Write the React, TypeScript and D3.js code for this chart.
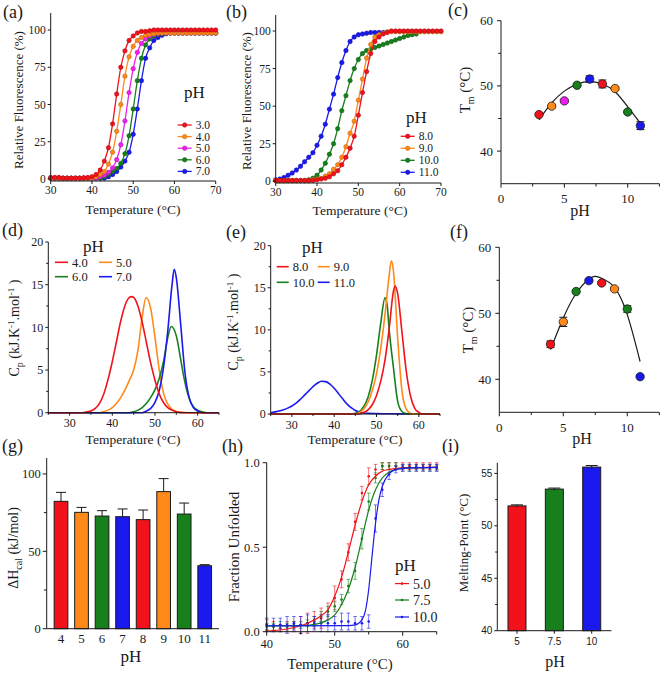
import React from "react";
import * as d3 from "d3";

const SERIF = "'Liberation Serif', 'Times New Roman', serif";
const SANS = "'Liberation Sans', Arial, sans-serif";
const INK = "#1a1a1a";

const RED = "#f2121b";
const ORANGE = "#ff8a1a";
const MAGENTA = "#f01ef0";
const GREEN = "#17801c";
const BLUE = "#1a1aee";

// ---------------- (a) / (b) thermal shift data ----------------
const TEMP_AB = [30,31,32,33,34,35,36,37,38,39,40,41,42,43,44,45,46,47,48,49,50,51,52,53,54,55,56,57,58,59,60,61,62,63,64,65,66,67,68,69,70];
const A_PH3 = [1,1,1,0.5,0.5,0.5,0.5,0.5,0.8,1,1.5,3,6,12,21,37,57,75,86,93,96,98,99,99,99.5,100,100,100,100,100,100,100,100,100,100,100,100,100,100,100,100];
const A_PH4 = [0.5,0.5,0.5,0.5,0.5,0.5,0.5,0.5,0.5,0.5,0.5,1.5,3,5,10,18,32,50,69,82,89,93,95,96.5,97,97.5,98,98,98,98,98,98,98,98,98,98,98,98,98,98,98];
const A_PH5 = [0.5,0.5,0.5,0.5,0.5,0.5,0.5,0.5,0.5,0.5,0.5,0.5,1.5,2.5,4.5,7.5,13,23,39,58,74,85,91,94,96,97,97.5,98,98,98,98,98,98,98,98,98,98,98,98,98,98];
const A_PH6 = [0.5,0.5,0.5,0.5,0.5,0.5,0.5,0.5,0.5,0.5,0.5,0.5,0.5,1.5,3,5,7,10.5,17,29,47,66,81,90,94,96,97,97.5,98,98,98,98,98,98,98,98,98,98,98,98,98];
const A_PH7 = [0.5,0.5,0.5,0.5,0.5,0.5,0.5,0.5,0.5,0.5,0.5,0.5,0.5,0.5,1.5,3,5,8,12,18,30,47,66,81,88,93,95,96.5,97.5,98,98,98,98,98,98,98,98,98,98,98,98];

const B_PH8 = [0.5,0.5,0.5,0.5,0.5,0.5,0.5,0.5,0.5,0.5,1,1.5,2,3,5,7,11,16,22,30,44,59,73,85,93,96,98,99,100,100,100,100,100,100,100,100,100,100,100,100,100];
const B_PH9 = [0.5,0.5,0.5,0.5,0.5,0.5,0.5,0.5,0.5,1,1.5,2,3.5,5,8,11,16,23,32,40,54,68,82,91,96,97.5,98.5,99.5,99.5,99.5,99.5,99.5,99.5,99.5,99.5,99.5,99.5,99.5,99.5,99.5,99.5];
const B_PH10 = [0.5,0.5,0.5,0.5,0.5,0.5,0.5,0.5,1,2,4,7.5,12,18,25,35,47,57,67,75,81,85,87,88,89,90,91,92,93,94,95,96,97,97.5,98];
const B_PH11 = [1,1.5,2.5,4,5.5,7.5,10,13,16,19,24,30,38,48,58,69,79,87,93,96,97.5,98,98.5,99,99,99,99];

// ---------------- (c) / (f) Tm vs pH ----------------
const PH_C = [3,4,5,6,7,8,9,10,11];
const TM_C = [45.6,46.9,47.7,50.1,51.05,50.3,49.6,46.0,43.9];
const ERR_C = [0.2,0.2,0.2,0.2,0.5,0.6,0.2,0.2,0.6];
const COL_C = [RED, ORANGE, MAGENTA, GREEN, BLUE, RED, ORANGE, GREEN, BLUE];
const FIT_C_PH = [3,4,5,6,7,8,9,10,11];
const FIT_C_TM = [44.8,47.4,49.2,50.3,50.7,50.3,49.1,46.8,44.3];

const PH_F = [4,5,6,7,8,9,10,11];
const TM_F = [45.3,48.7,53.3,54.95,54.6,53.7,50.65,40.4];
const ERR_F = [0.5,0.7,0.2,0.2,0.2,0.2,0.5,0.2];
const COL_F = [RED, ORANGE, GREEN, BLUE, RED, ORANGE, GREEN, BLUE];
const FIT_F_PH = [4,5,6,7,7.5,8,9,10,11];
const FIT_F_TM = [44.5,49.3,53.0,55.2,55.6,55.3,53.9,49.8,42.7];

// ---------------- (d) / (e) DSC Cp curves [T, Cp] ----------------
const D_PH4: [number, number][] = [[25,0],[33,0],[34,0.1],[35,0.2],[36,0.5],[37,1.1],[38,2.2],[39,3.9],[40,6.0],[41,8.4],[42,10.8],[43,12.6],[44,13.5],[44.5,13.6],[45,13.5],[46,12.5],[47,10.6],[48,8.2],[49,5.8],[50,3.8],[51,2.2],[52,1.2],[53,0.6],[54,0.3],[55,0.1],[57,0],[65,0]];
const D_PH5: [number, number][] = [[25,0],[37,0],[38,0.1],[39,0.3],[40,0.6],[41,1.1],[42,1.8],[43,2.7],[44,3.8],[45,5.0],[46,7.3],[47,11.2],[47.9,13.5],[49,12.2],[50,8.8],[51,5.0],[52,2.3],[53,1.0],[54,0.4],[55,0.15],[56,0.05],[58,0],[65,0]];
const D_PH6: [number, number][] = [[25,0],[44,0],[45,0.1],[46,0.3],[47,0.6],[48,1.1],[49,1.8],[50,2.7],[51,4.0],[52,6.0],[53,8.8],[53.8,10.1],[55,9.0],[56,6.3],[57,3.6],[58,1.7],[59,0.7],[60,0.3],[61,0.1],[62,0],[65,0]];
const D_PH7: [number, number][] = [[25,0],[47,0],[48,0.2],[49,0.5],[50,1.2],[51,2.6],[52,5.3],[53,9.6],[54,15.0],[54.5,16.8],[55,15.8],[56,10.5],[57,4.8],[58,1.8],[59,0.6],[60,0.2],[61,0],[65,0]];

const E_PH8: [number, number][] = [[25,0],[46,0],[47,0.2],[48,0.5],[49,1.1],[50,2.2],[51,3.9],[52,6.4],[53,10.2],[54,14.6],[54.4,15.2],[55,14.3],[56,9.8],[57,5.2],[58,2.2],[59,0.7],[60,0.2],[61,0],[65,0]];
const E_PH9: [number, number][] = [[25,0],[45,0],[46,0.2],[47,0.6],[48,1.4],[49,2.8],[50,4.8],[51,7.8],[52,11.8],[53,16.5],[53.5,18.2],[54,17.0],[55,9.0],[56,2.8],[57,0.6],[58,0.1],[59,0],[65,0]];
const E_PH10: [number, number][] = [[25,0],[44,0],[45,0.1],[46,0.3],[47,0.9],[48,2.0],[49,4.0],[50,7.0],[51,10.8],[52,13.8],[52.5,13.0],[53,10.0],[54,5.5],[55,1.5],[56,0.3],[57,0.05],[58,0],[65,0]];
const E_PH11: [number, number][] = [[25,0.15],[26,0.25],[27,0.35],[28,0.5],[29,0.7],[30,0.95],[31,1.3],[32,1.75],[33,2.25],[34,2.75],[35,3.25],[36,3.65],[37,3.9],[38,3.85],[39,3.55],[40,3.05],[41,2.45],[42,1.8],[43,1.2],[44,0.75],[45,0.42],[46,0.22],[47,0.12],[48,0.08],[50,0.05],[55,0.02],[65,0]];

// ---------------- (g) enthalpy bars ----------------
const PH_G = ["4","5","6","7","8","9","10","11"];
const DH_G = [82.3,75.2,72.8,72.4,70.5,88.6,74.1,40.7];
const ERR_G = [5.8,3.2,3.5,5.0,6.2,8.4,7.1,0.7];
const COL_G = [RED, ORANGE, GREEN, BLUE, RED, ORANGE, GREEN, BLUE];

// ---------------- (h) fraction unfolded ----------------
const TEMP_H = [40,41,42,43,44,45,46,47,48,49,50,51,52,53,54,55,56,57,58,59,60,61,62,63,64,65];
const H_PH5 = [0.04,0.03,0.02,0.03,0.03,0.04,0.05,0.07,0.08,0.12,0.20,0.31,0.47,0.65,0.82,0.92,0.96,0.98,0.98,0.98,0.98,0.98,0.98,0.98,0.98,0.98];
const H_ERR5 = [0.03,0.03,0.02,0.03,0.03,0.05,0.06,0.05,0.06,0.05,0.07,0.05,0.05,0.05,0.04,0.05,0.03,0.02,0.02,0.02,0.02,0.02,0.02,0.02,0.02,0.02];
const H_PH75 = [0.03,0.03,0.04,0.03,0.04,0.04,0.05,0.06,0.09,0.12,0.15,0.19,0.27,0.36,0.55,0.77,0.91,0.98,0.98,0.98,0.97,0.97,0.97,0.97,0.97,0.97];
const H_ERR75 = [0.02,0.02,0.02,0.02,0.02,0.02,0.02,0.03,0.03,0.03,0.03,0.03,0.04,0.05,0.06,0.05,0.03,0.02,0.02,0.02,0.02,0.02,0.02,0.02,0.02,0.02];
const H_PH10 = [0.04,0.04,0.04,0.04,0.05,0.04,0.05,0.05,0.05,0.05,0.05,0.06,0.06,0.05,0.05,0.06,0.67,0.84,0.93,0.96,0.97,0.97,0.97,0.97,0.97,0.97];
const H_ERR10 = [0.04,0.04,0.04,0.05,0.04,0.05,0.05,0.04,0.05,0.05,0.04,0.05,0.05,0.04,0.04,0.04,0.08,0.04,0.03,0.02,0.02,0.02,0.02,0.02,0.02,0.02];
const FIT_H5: [number, number][] = [[40,0.004],[42,0.01],[44,0.025],[45,0.035],[46,0.05],[47,0.07],[48,0.095],[49,0.13],[50,0.21],[51,0.32],[52,0.47],[53,0.63],[54,0.77],[55,0.87],[56,0.92],[57,0.95],[58,0.96],[60,0.97],[65,0.972]];
const FIT_H75: [number, number][] = [[40,0.035],[45,0.036],[46,0.038],[47,0.043],[48,0.052],[49,0.07],[50,0.1],[51,0.16],[52,0.25],[53,0.38],[54,0.55],[55,0.72],[56,0.84],[57,0.91],[58,0.945],[59,0.96],[60,0.967],[65,0.972]];
const FIT_H10: [number, number][] = [[40,0.035],[52,0.036],[53,0.04],[54,0.07],[54.5,0.12],[55,0.25],[55.5,0.45],[56,0.64],[56.5,0.78],[57,0.86],[58,0.935],[59,0.96],[60,0.967],[65,0.972]];

// ---------------- (i) melting point bars ----------------
const PH_I = ["5","7.5","10"];
const MP_I = [51.9,53.5,55.6];
const ERR_I = [0.1,0.1,0.15];
const COL_I = [RED, GREEN, BLUE];

// ---------------- axis helpers ----------------
type AxProps = {
  pos: number; from: number; to: number;
  scale: (v: any) => number;
  ticks: any[]; minor?: number[];
  fmt?: (v: any) => string;
  fs?: number; font?: string; gap?: number; tl?: number; marks?: boolean;
};

function YAxis({ pos, from, to, scale, ticks, minor = [], fmt = String, fs = 12, font = SERIF, gap = 6, tl = 4 }: AxProps) {
  return (
    <g>
      <line x1={pos} x2={pos} y1={from} y2={to} stroke={INK} strokeWidth={1} />
      {ticks.map((t, i) => (
        <g key={"t" + i}>
          <line x1={pos - tl} x2={pos} y1={scale(t)} y2={scale(t)} stroke={INK} strokeWidth={1} />
          <text x={pos - gap} y={scale(t)} dy="0.35em" textAnchor="end" fontSize={fs} fontFamily={font} fill={INK}>{fmt(t)}</text>
        </g>
      ))}
      {minor.map((t, i) => (
        <line key={"m" + i} x1={pos - tl * 0.7} x2={pos} y1={scale(t)} y2={scale(t)} stroke={INK} strokeWidth={1} />
      ))}
    </g>
  );
}

function XAxis({ pos, from, to, scale, ticks, minor = [], fmt = String, fs = 12, font = SERIF, gap = 10, tl = 4, marks = true }: AxProps) {
  return (
    <g>
      <line x1={from} x2={to} y1={pos} y2={pos} stroke={INK} strokeWidth={1} />
      {ticks.map((t, i) => (
        <g key={"t" + i}>
          {marks && <line x1={scale(t)} x2={scale(t)} y1={pos} y2={pos + tl} stroke={INK} strokeWidth={1} />}
          <text x={scale(t)} y={pos + gap} dy="0.35em" textAnchor="middle" fontSize={fs} fontFamily={font} fill={INK}>{fmt(t)}</text>
        </g>
      ))}
      {minor.map((t, i) => (
        <line key={"m" + i} x1={scale(t)} x2={scale(t)} y1={pos} y2={pos + tl * 0.7} stroke={INK} strokeWidth={1} />
      ))}
    </g>
  );
}

function Letter({ x, y, t }: { x: number; y: number; t: string }) {
  return <text x={x} y={y} fontSize={18} fontFamily={SERIF} fill={INK}>{t}</text>;
}

function YTitle({ x, y, fs = 14, children }: { x: number; y: number; fs?: number; children: any }) {
  return (
    <text transform={`translate(${x},${y}) rotate(-90)`} textAnchor="middle" dy="0.35em" fontSize={fs} fontFamily={SERIF} fill={INK}>
      {children}
    </text>
  );
}

function XTitle({ x, y, fs = 14, children }: { x: number; y: number; fs?: number; children: any }) {
  return (
    <text x={x} y={y} textAnchor="middle" fontSize={fs} fontFamily={SERIF} fill={INK}>{children}</text>
  );
}

const fmtF = (d: number) => d.toFixed(1);

// ---------------- Panels ----------------
type Ser = { label: string; color: string; v: number[]; t: number[] };

function SigmoidPanel({ xr, yr, axisY, topY, series, order, legend }: {
  xr: [number, number]; yr: [number, number]; axisY: number; topY: number;
  series: Ser[]; order: number[]; legend: { x: number; y0: number; dy: number; title: [number, number] };
}) {
  const x = d3.scaleLinear().domain([30, 70]).range(xr);
  const y = d3.scaleLinear().domain([0, 100]).range(yr);
  const line = d3.line<[number, number]>().x(d => x(d[0])).y(d => y(d[1])).curve(d3.curveMonotoneX);
  return (
    <g>
      {order.map(k => {
        const s = series[k];
        const pts = s.v.map((v, i) => [s.t[i], v] as [number, number]);
        const dark = d3.color(s.color)!.darker(0.8).formatHex();
        return (
          <g key={s.label}>
            <path d={line(pts) || ""} fill="none" stroke={s.color} strokeWidth={1.3} />
            {pts.map((p, i) => (
              <circle key={i} cx={x(p[0])} cy={y(p[1])} r={2.2} fill={s.color} stroke={dark} strokeWidth={0.6} />
            ))}
          </g>
        );
      })}
      <YAxis pos={xr[0]} from={topY} to={axisY} scale={y} ticks={[0, 25, 50, 75, 100]} fs={11.5} gap={5} tl={3} />
      <XAxis pos={axisY} from={xr[0]} to={xr[1]} scale={x} ticks={[30, 40, 50, 60, 70]} fs={11.5} gap={9} tl={3} />
      <text x={legend.title[0]} y={legend.title[1]} fontSize={17} fontFamily={SERIF} fill={INK}>pH</text>
      {series.map((s, i) => {
        const yy = legend.y0 + i * legend.dy;
        const dark = d3.color(s.color)!.darker(0.8).formatHex();
        return (
          <g key={"lg" + i}>
            <line x1={legend.x} x2={legend.x + 14} y1={yy} y2={yy} stroke={s.color} strokeWidth={1.3} />
            <circle cx={legend.x + 7} cy={yy} r={2.2} fill={s.color} stroke={dark} strokeWidth={0.6} />
            <text x={legend.x + 18} y={yy} dy="0.35em" fontSize={11.5} fontFamily={SERIF} fill={INK}>{s.label}</text>
          </g>
        );
      })}
    </g>
  );
}

function TmPanel({ xr, yr, ph, tm, err, col, fitPh, fitTm, axisY }: {
  xr: [number, number]; yr: [number, number]; ph: number[]; tm: number[]; err: number[]; col: string[];
  fitPh: number[]; fitTm: number[]; axisY: number;
}) {
  const x = d3.scaleLinear().domain([0, 12.5]).range(xr);
  const y = d3.scaleLinear().domain([35, 60]).range(yr);
  const line = d3.line<number>().x((_, i) => x(fitPh[i])).y(d => y(d)).curve(d3.curveNatural);
  return (
    <g>
      <YAxis pos={xr[0]} from={yr[1]} to={yr[0]} scale={y} ticks={[40, 50, 60]} minor={[45, 55]} fs={13} gap={8} tl={4} />
      <XAxis pos={axisY} from={xr[0]} to={xr[1]} scale={x} ticks={[0, 5, 10]} minor={[2.5, 7.5, 12.5]} fs={13} gap={15} tl={4} />
      <path d={line(fitTm) || ""} fill="none" stroke={INK} strokeWidth={1.2} />
      {ph.map((p, i) => (
        <g key={i}>
          <line x1={x(p)} x2={x(p)} y1={y(tm[i] - err[i])} y2={y(tm[i] + err[i])} stroke={INK} strokeWidth={1} />
          <line x1={x(p) - 4} x2={x(p) + 4} y1={y(tm[i] - err[i])} y2={y(tm[i] - err[i])} stroke={INK} strokeWidth={1} />
          <line x1={x(p) - 4} x2={x(p) + 4} y1={y(tm[i] + err[i])} y2={y(tm[i] + err[i])} stroke={INK} strokeWidth={1} />
          <circle cx={x(p)} cy={y(tm[i])} r={4.2} fill={col[i]} stroke={INK} strokeWidth={0.8} />
        </g>
      ))}
    </g>
  );
}

function CpTitle({ x, y }: { x: number; y: number }) {
  return (
    <YTitle x={x} y={y} fs={14}>
      C<tspan fontSize={10} dy={4}>p</tspan>
      <tspan dy={-4}> (kJ.K</tspan>
      <tspan fontSize={9} dy={-5}>-1</tspan>
      <tspan dy={5}>.mol</tspan>
      <tspan fontSize={9} dy={-5}>-1</tspan>
      <tspan dy={5}> )</tspan>
    </YTitle>
  );
}

function CpPanel({ xr, yr, series, order, legend }: {
  xr: [number, number]; yr: [number, number];
  series: { label: string; color: string; d: [number, number][] }[]; order: number[];
  legend: { title: [number, number]; rows: number[]; cols: number[]; len: number };
}) {
  const x = d3.scaleLinear().domain([25, 65]).range(xr);
  const y = d3.scaleLinear().domain([0, 20]).range(yr);
  const line = d3.line<[number, number]>().x(d => x(d[0])).y(d => y(d[1])).curve(d3.curveMonotoneX);
  return (
    <g>
      {order.map(k => (
        <path key={k} d={line(series[k].d) || ""} fill="none" stroke={series[k].color} strokeWidth={1.6} />
      ))}
      <YAxis pos={xr[0]} from={yr[1]} to={yr[0]} scale={y} ticks={[0, 5, 10, 15, 20]} minor={[2.5, 7.5, 12.5, 17.5]} fs={12} gap={5} tl={3} />
      <XAxis pos={yr[0]} from={xr[0]} to={xr[1]} scale={x} ticks={[30, 40, 50, 60]} minor={[25, 35, 45, 55, 65]} fs={12} gap={10.5} tl={3} />
      <text x={legend.title[0]} y={legend.title[1]} fontSize={17} fontFamily={SERIF} fill={INK}>pH</text>
      {series.map((s, i) => {
        const yy = legend.rows[Math.floor(i / 2)];
        const xx = legend.cols[i % 2];
        return (
          <g key={"lg" + i}>
            <line x1={xx} x2={xx + legend.len} y1={yy} y2={yy} stroke={s.color} strokeWidth={1.6} />
            <text x={xx + legend.len + 4} y={yy} dy="0.35em" fontSize={12.5} fontFamily={SERIF} fill={INK}>{s.label}</text>
          </g>
        );
      })}
    </g>
  );
}

export default function App() {
  const seriesA: Ser[] = [
    { label: "3.0", color: RED, v: A_PH3, t: TEMP_AB },
    { label: "4.0", color: ORANGE, v: A_PH4, t: TEMP_AB },
    { label: "5.0", color: MAGENTA, v: A_PH5, t: TEMP_AB },
    { label: "6.0", color: GREEN, v: A_PH6, t: TEMP_AB },
    { label: "7.0", color: BLUE, v: A_PH7, t: TEMP_AB },
  ];
  const seriesB: Ser[] = [
    { label: "8.0", color: RED, v: B_PH8, t: TEMP_AB },
    { label: "9.0", color: ORANGE, v: B_PH9, t: TEMP_AB },
    { label: "10.0", color: GREEN, v: B_PH10, t: TEMP_AB.slice(0, B_PH10.length) },
    { label: "11.0", color: BLUE, v: B_PH11, t: TEMP_AB.slice(0, B_PH11.length) },
  ];
  const seriesD = [
    { label: "4.0", color: RED, d: D_PH4 },
    { label: "5.0", color: ORANGE, d: D_PH5 },
    { label: "6.0", color: GREEN, d: D_PH6 },
    { label: "7.0", color: BLUE, d: D_PH7 },
  ];
  const seriesE = [
    { label: "8.0", color: RED, d: E_PH8 },
    { label: "9.0", color: ORANGE, d: E_PH9 },
    { label: "10.0", color: GREEN, d: E_PH10 },
    { label: "11.0", color: BLUE, d: E_PH11 },
  ];

  const xG = d3.scaleBand<string>().domain(PH_G).range([46.7, 219]).paddingInner(0.333).paddingOuter(0.363);
  const yG = d3.scaleLinear().domain([0, 110]).range([628.7, 458.5]);
  const cG = (c: string) => (xG(c) || 0) + xG.bandwidth() / 2;

  const xH = d3.scaleLinear().domain([40, 65]).range([266.7, 436.7]);
  const yH = d3.scaleLinear().domain([0, 1]).range([631.7, 462.7]);
  const lineH = d3.line<[number, number]>().x(d => xH(d[0])).y(d => yH(d[1])).curve(d3.curveMonotoneX);
  const seriesH = [
    { label: "5.0", color: RED, v: H_PH5, e: H_ERR5, fit: FIT_H5 },
    { label: "7.5", color: GREEN, v: H_PH75, e: H_ERR75, fit: FIT_H75 },
    { label: "10.0", color: BLUE, v: H_PH10, e: H_ERR10, fit: FIT_H10 },
  ];

  const xI = d3.scaleBand<string>().domain(PH_I).range([497.3, 611.4]).paddingInner(0.518).paddingOuter(0.286);
  const yI = d3.scaleLinear().domain([40, 56]).range([630.7, 462.9]);
  const cI = (c: string) => (xI(c) || 0) + xI.bandwidth() / 2;

  return (
    <svg width={667} height={675} style={{ position: "absolute", left: 0, top: 0, background: "#fff" }}>
      <rect x={0} y={0} width={667} height={675} fill="#fff" />

      {/* (a) */}
      <Letter x={3} y={18} t="(a)" />
      <SigmoidPanel xr={[50.7, 215.7]} yr={[179, 30]} axisY={181} topY={13} series={seriesA} order={[4, 3, 2, 1, 0]}
        legend={{ x: 177.7, y0: 125, dy: 11.6, title: [184, 98] }} />
      <YTitle x={18} y={100} fs={13}>Relative Fluorescence (%)</YTitle>
      <XTitle x={133} y={214} fs={13.5}>Temperature (°C)</XTitle>

      {/* (b) */}
      <Letter x={226} y={18} t="(b)" />
      <SigmoidPanel xr={[275.7, 441]} yr={[181.3, 31]} axisY={183} topY={15} series={seriesB} order={[2, 3, 1, 0]}
        legend={{ x: 400.7, y0: 136.3, dy: 12, title: [406, 123] }} />
      <YTitle x={246} y={101} fs={13}>Relative Fluorescence (%)</YTitle>
      <XTitle x={360} y={215} fs={13.5}>Temperature (°C)</XTitle>

      {/* (c) */}
      <Letter x={448} y={16} t="(c)" />
      <TmPanel xr={[501, 659.4]} yr={[183.7, 20.7]} axisY={183.7} ph={PH_C} tm={TM_C} err={ERR_C} col={COL_C} fitPh={FIT_C_PH} fitTm={FIT_C_TM} />
      <YTitle x={465} y={90} fs={15}>T<tspan fontSize={10} dy={4}>m</tspan><tspan dy={-4}> (°C)</tspan></YTitle>
      <XTitle x={580} y={216} fs={16}>pH</XTitle>

      {/* (d) */}
      <Letter x={2} y={236} t="(d)" />
      <CpPanel xr={[48.3, 219]} yr={[412.7, 242]} series={seriesD} order={[1, 2, 3, 0]}
        legend={{ title: [83, 252], rows: [262.3, 276.7], cols: [55, 99], len: 13 }} />
      <CpTitle x={14} y={328} />
      <XTitle x={133} y={444} fs={13.5}>Temperature (°C)</XTitle>

      {/* (e) */}
      <Letter x={226} y={238} t="(e)" />
      <CpPanel xr={[270.7, 440]} yr={[414, 245.7]} series={seriesE} order={[3, 2, 1, 0]}
        legend={{ title: [302, 253], rows: [266.7, 282.3], cols: [276.7, 317.7], len: 12 }} />
      <CpTitle x={233} y={322} />
      <XTitle x={355} y={444} fs={13.5}>Temperature (°C)</XTitle>

      {/* (f) */}
      <Letter x={450} y={238} t="(f)" />
      <TmPanel xr={[499.3, 659.3]} yr={[412.3, 247.3]} axisY={412.3} ph={PH_F} tm={TM_F} err={ERR_F} col={COL_F} fitPh={FIT_F_PH} fitTm={FIT_F_TM} />
      <YTitle x={468} y={330} fs={15}>T<tspan fontSize={10} dy={4}>m</tspan><tspan dy={-4}> (°C)</tspan></YTitle>
      <XTitle x={582} y={444} fs={16}>pH</XTitle>

      {/* (g) */}
      <Letter x={2} y={452} t="(g)" />
      {PH_G.map((c, i) => (
        <g key={"g" + c}>
          <line x1={cG(c)} x2={cG(c)} y1={yG(DH_G[i])} y2={yG(DH_G[i] + ERR_G[i])} stroke={INK} strokeWidth={1} />
          <line x1={cG(c) - 5} x2={cG(c) + 5} y1={yG(DH_G[i] + ERR_G[i])} y2={yG(DH_G[i] + ERR_G[i])} stroke={INK} strokeWidth={1} />
          <rect x={xG(c)} y={yG(DH_G[i])} width={xG.bandwidth()} height={yG(0) - yG(DH_G[i])} fill={COL_G[i]} stroke={INK} strokeWidth={1} />
        </g>
      ))}
      <YAxis pos={46.7} from={458} to={628.7} scale={yG} ticks={[0, 50, 100]} minor={[25, 75]} fs={12.5} gap={6} tl={4} />
      <XAxis pos={628.7} from={46.7} to={219} scale={cG} ticks={PH_G} fs={13} gap={10} marks={false} />
      <YTitle x={13} y={548} fs={14}>ΔH<tspan fontSize={10} dy={4}>cal</tspan><tspan dy={-4}> (kJ/mol)</tspan></YTitle>
      <XTitle x={131} y={662} fs={17}>pH</XTitle>

      {/* (h) */}
      <Letter x={222} y={452} t="(h)" />
      {seriesH.map(s => (
        <g key={"h" + s.label}>
          {TEMP_H.map((t, i) => {
            const cx = xH(t);
            const lo = yH(s.v[i] - s.e[i]);
            const hi = yH(s.v[i] + s.e[i]);
            return (
              <g key={i}>
                <line x1={cx} x2={cx} y1={lo} y2={hi} stroke={s.color} strokeWidth={0.8} opacity={0.75} />
                <line x1={cx - 1.8} x2={cx + 1.8} y1={lo} y2={lo} stroke={s.color} strokeWidth={0.8} opacity={0.75} />
                <line x1={cx - 1.8} x2={cx + 1.8} y1={hi} y2={hi} stroke={s.color} strokeWidth={0.8} opacity={0.75} />
                <circle cx={cx} cy={yH(s.v[i])} r={1.3} fill={s.color} />
              </g>
            );
          })}
        </g>
      ))}
      {seriesH.map(s => (
        <path key={"hf" + s.label} d={lineH(s.fit) || ""} fill="none" stroke={s.color} strokeWidth={1.2} />
      ))}
      <YAxis pos={266.7} from={462.7} to={631.7} scale={yH} ticks={[0, 0.5, 1]} fmt={fmtF} fs={12.5} gap={7} tl={4} />
      <XAxis pos={631.7} from={266.7} to={436.7} scale={xH} ticks={[40, 50, 60]} minor={[45, 55, 65]} fs={12.5} gap={12} tl={4} />
      <YTitle x={234} y={547} fs={15}>Fraction Unfolded</YTitle>
      <XTitle x={340} y={669} fs={15}>Temperature (°C)</XTitle>
      <text x={395} y={571} fontSize={17} fontFamily={SERIF} fill={INK}>pH</text>
      {seriesH.map((s, i) => {
        const yy = [583.6, 600, 617][i];
        return (
          <g key={"hl" + i}>
            <line x1={395} x2={409} y1={yy} y2={yy} stroke={s.color} strokeWidth={1.2} />
            <circle cx={402} cy={yy} r={1.3} fill={s.color} />
            <text x={413} y={yy} dy="0.35em" fontSize={14} fontFamily={SERIF} fill={INK}>{s.label}</text>
          </g>
        );
      })}

      {/* (i) */}
      <Letter x={442} y={452} t="(i)" />
      {PH_I.map((c, i) => (
        <g key={"i" + c}>
          <rect x={xI(c)} y={yI(MP_I[i])} width={xI.bandwidth()} height={yI(40) - yI(MP_I[i])} fill={COL_I[i]} stroke={INK} strokeWidth={1} />
          <line x1={cI(c)} x2={cI(c)} y1={yI(MP_I[i] - ERR_I[i])} y2={yI(MP_I[i] + ERR_I[i])} stroke={INK} strokeWidth={1} />
          <line x1={cI(c) - 6} x2={cI(c) + 6} y1={yI(MP_I[i] + ERR_I[i])} y2={yI(MP_I[i] + ERR_I[i])} stroke={INK} strokeWidth={1} />
        </g>
      ))}
      <YAxis pos={497.3} from={462.7} to={630.7} scale={yI} ticks={[40, 45, 50, 55]} minor={[42.5, 47.5, 52.5]} fs={10} font={SANS} gap={5} tl={3} />
      <XAxis pos={630.7} from={497.3} to={611.4} scale={cI} ticks={PH_I} fs={10} font={SANS} gap={11} tl={3} />
      <YTitle x={463} y={543} fs={13}>Melting-Point (°C)</YTitle>
      <XTitle x={555} y={667} fs={16}>pH</XTitle>
    </svg>
  );
}
